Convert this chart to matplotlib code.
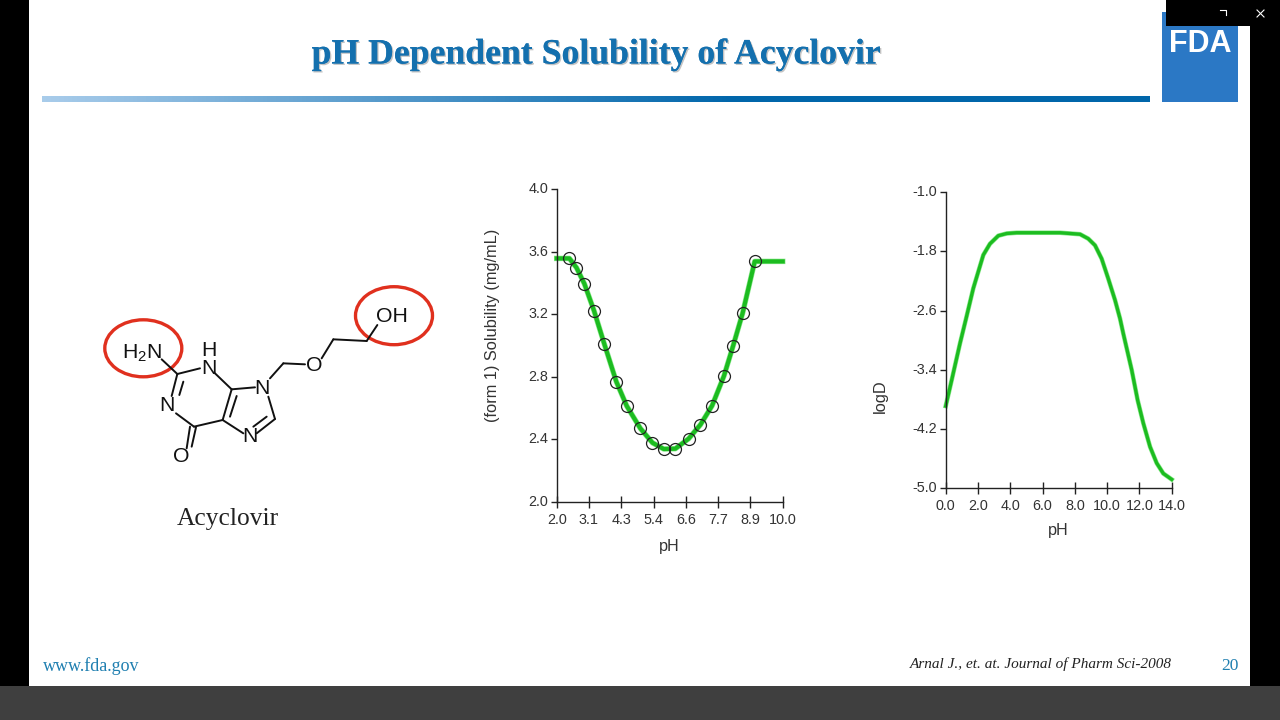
import matplotlib
matplotlib.use("Agg")
import matplotlib.pyplot as plt
import matplotlib.patheffects as pe
import numpy as np
from matplotlib.patches import Ellipse, Rectangle
from matplotlib.transforms import ScaledTranslation

W, H = 1280, 720
GREEN = "#1cbc20"
GREEN_EDGE = "#8be88c"
SANS = "Liberation Sans"
SERIF = "Liberation Serif"

# solubility panel: measured points lie on the curve, plus flat ends
sol_ph = [2.45, 2.70, 2.98, 3.32, 3.69, 4.11, 4.48, 4.96, 5.39, 5.79, 6.20,
          6.67, 7.09, 7.50, 7.92, 8.24, 8.58, 9.01]
sol_val = [3.556, 3.497, 3.394, 3.222, 3.006, 2.768, 2.612, 2.469, 2.377, 2.337,
           2.339, 2.403, 2.493, 2.614, 2.804, 2.994, 3.205, 3.537]
sol_ph_start = [2.0]
sol_val_start = [3.556]
sol_ph_end = [10.0]
sol_val_end = [3.537]
sol_xticks = [2.0, 3.14, 4.29, 5.43, 6.57, 7.71, 8.86, 10.0]
sol_xlabels = ["2.0", "3.1", "4.3", "5.4", "6.6", "7.7", "8.9", "10.0"]
sol_yticks = [2.0, 2.4, 2.8, 3.2, 3.6, 4.0]

# logD panel
logd_ph = [0.0, 0.37, 0.89, 1.26, 1.71, 2.33, 2.74, 3.26, 3.78, 4.40, 5.22, 7.08, 7.70,
           8.32, 8.83, 9.25, 9.66, 10.07, 10.49, 10.80, 11.00, 11.52, 11.89, 12.24,
           12.66, 13.07, 13.48, 14.0]
logd_val = [-3.89, -3.54, -3.04, -2.71, -2.30, -1.85, -1.70, -1.59, -1.56, -1.55, -1.55,
            -1.55, -1.56, -1.57, -1.63, -1.72, -1.90, -2.17, -2.46, -2.71, -2.91, -3.40,
            -3.81, -4.12, -4.44, -4.66, -4.80, -4.88]
logd_xticks = [0, 2, 4, 6, 8, 10, 12, 14]
logd_yticks = [-5.0, -4.2, -3.4, -2.6, -1.8, -1.0]

# molecule sketch, in 3x zoom pixels of the region starting at (90, 270)
bonds = [
    ((262, 312), (215, 268)), ((262, 312), (330, 295)), ((375, 310), (425, 358)),
    ((425, 358), (495, 352)), ((425, 358), (398, 450)), ((440, 378), (420, 440)),
    ((398, 450), (312, 470)), ((312, 470), (258, 430)), ((245, 378), (262, 312)),
    ((268, 375), (280, 335)), ((300, 470), (290, 535)), ((318, 472), (305, 530)),
    ((398, 450), (460, 490)), ((500, 490), (555, 447)), ((490, 470), (530, 440)),
    ((555, 447), (535, 380)), ((540, 325), (580, 280)), ((580, 280), (645, 283)),
    ((695, 265), (730, 208)), ((730, 208), (830, 213)), ((830, 213), (862, 165)),
]
atoms = [
    ("H$_2$N", 155, 250), ("H", 357, 240), ("N", 357, 295), ("N", 517, 354),
    ("N", 232, 407), ("O", 273, 560), ("N", 480, 500), ("O", 672, 287), ("OH", 905, 138),
]


def panel(fig, left, right, top, bottom):
    """Axes placed by its pixel box on the slide."""
    ax = fig.add_axes([left / W, 1 - bottom / H, (right - left) / W, (bottom - top) / H])
    ax.patch.set_alpha(0)
    for s in ("top", "right"):
        ax.spines[s].set_visible(False)
    for s in ("left", "bottom"):
        ax.spines[s].set_linewidth(1.0)
        ax.spines[s].set_color("#222222")
    ax.tick_params(axis="y", length=4.5, width=1.0, pad=1.5, labelsize=10.4, color="#222222", labelcolor="#333333")
    ax.tick_params(axis="x", direction="inout", length=9, width=1.0, pad=3.5, labelsize=10.4, color="#222222", labelcolor="#333333")
    return ax


def green_line(ax, x, y, lw):
    ax.plot(x, y, color=GREEN_EDGE, lw=lw + 0.9, clip_on=False, solid_joinstyle="round")
    ax.plot(x, y, color=GREEN, lw=lw, clip_on=False, solid_joinstyle="round")


def lift_ylabels(ax, px):
    # y tick labels sit a little above their ticks in the original
    for lab in ax.get_yticklabels():
        lab.set_transform(lab.get_transform() + ScaledTranslation(0, px / 100, fig.dpi_scale_trans))


plt.rcParams["font.family"] = [SANS, "DejaVu Sans"]
plt.rcParams["mathtext.default"] = "regular"

fig = plt.figure(figsize=(W / 100, H / 100), dpi=100, facecolor="black")

# slide chrome drawn in pixel coordinates
bg = fig.add_axes([0, 0, 1, 1])
bg.set_xlim(0, W)
bg.set_ylim(H, 0)
bg.axis("off")
bg.add_patch(Rectangle((29, 0), 1221, 686, color="white", lw=0))
bg.add_patch(Rectangle((0, 686), W, 34, color="#3f3f3f", lw=0))

grad = np.linspace(0, 1, 256)[None, :, None]
light, dark = np.array([0.66, 0.80, 0.92]), np.array([0.0, 0.40, 0.67])
bg.imshow(light + (dark - light) * np.clip(grad * 1.6, 0, 1), extent=(42, 1150, 102, 96), aspect="auto", zorder=2)
bg.set_xlim(0, W)
bg.set_ylim(H, 0)

bg.text(596, 55, "pH Dependent Solubility of Acyclovir", family=SERIF, weight="bold", fontsize=25.7,
        color="#1470ae", ha="center", va="center",
        path_effects=[pe.withSimplePatchShadow(offset=(1, -1), shadow_rgbFace="#555555", alpha=0.35), pe.Normal()])

bg.add_patch(Rectangle((1161.5, 12), 76.5, 89.5, color="#2b78c5", lw=0, zorder=3))
bg.text(1200, 44, "FDA", family=SANS, weight="bold", fontsize=22, color="white", ha="center", va="center", zorder=4)
bg.add_patch(Rectangle((1166, 0), 114, 26, color="black", lw=0, zorder=5))
bg.plot([1220, 1226, 1226], [10, 10, 15], color="white", lw=0.8, zorder=6)
bg.plot([1257, 1264], [10, 17], color="white", lw=0.8, zorder=6)
bg.plot([1257, 1264], [17, 10], color="white", lw=0.8, zorder=6)

bg.text(43, 666.5, "www.fda.gov", family=SERIF, fontsize=13, color="#1f7fb0", va="center")
bg.text(1172, 664.5, "Arnal J., et. at. Journal of Pharm Sci-2008", family=SERIF, style="italic",
        fontsize=11, color="#222222", ha="right", va="center")
bg.text(1239, 666.5, "20", family=SERIF, fontsize=12.5, color="#1f7fb0", ha="right", va="center")

# molecule
for (x0, y0), (x1, y1) in bonds:
    bg.plot([90 + x0 / 3, 90 + x1 / 3], [270 + y0 / 3, 270 + y1 / 3], color="#111111", lw=1.4, solid_capstyle="round")
for label, x, y in atoms:
    bg.text(90 + x / 3, 270 + y / 3, label, family=SANS, fontsize=15.3, color="#111111", ha="center", va="center")
bg.add_patch(Ellipse((143.3, 348.3), 77, 57, fill=False, ec="#e0301e", lw=2.4))
bg.add_patch(Ellipse((394, 315.7), 77, 58, fill=False, ec="#e0301e", lw=2.4))
bg.text(228, 519, "Acyclovir", family=SERIF, fontsize=18.4, color="#222222", ha="center", va="center")

# solubility chart
ax1 = panel(fig, 556.7, 782.7, 189, 501.7)
green_line(ax1, sol_ph_start + sol_ph + sol_ph_end, sol_val_start + sol_val + sol_val_end, 3.0)
ax1.plot(sol_ph, sol_val, "o", mfc="none", mec="#222222", mew=0.9, ms=8.6, clip_on=False)
ax1.set_xlim(2.0, 10.0)
ax1.set_ylim(2.0, 4.0)
ax1.set_xticks(sol_xticks, sol_xlabels)
ax1.set_yticks(sol_yticks, [f"{v:.1f}" for v in sol_yticks])
ax1.set_xlabel("pH", fontsize=11.6, color="#333333", va="center")
ax1.set_ylabel("(form 1) Solubility (mg/mL)", fontsize=11.8, color="#333333", va="center")
ax1.xaxis.set_label_coords(0.498, -0.142)
ax1.yaxis.set_label_coords(-0.282, 0.565)
lift_ylabels(ax1, 1.5)

# logD chart
ax2 = panel(fig, 945.7, 1171.7, 192, 488.3)
green_line(ax2, logd_ph, logd_val, 2.4)
ax2.set_xlim(0, 14)
ax2.set_ylim(-5.0, -1.0)
ax2.set_xticks(logd_xticks, [f"{v:.1f}" for v in logd_xticks])
ax2.set_yticks(logd_yticks, [f"{v:.1f}" for v in logd_yticks])
ax2.set_xlabel("pH", fontsize=11.6, color="#333333", va="center")
ax2.set_ylabel("logD", fontsize=11.8, color="#333333", va="center")
ax2.xaxis.set_label_coords(0.497, -0.144)
ax2.yaxis.set_label_coords(-0.29, 0.31)
lift_ylabels(ax2, 1.5)

fig.savefig("out.png", dpi=100, facecolor=fig.get_facecolor())
